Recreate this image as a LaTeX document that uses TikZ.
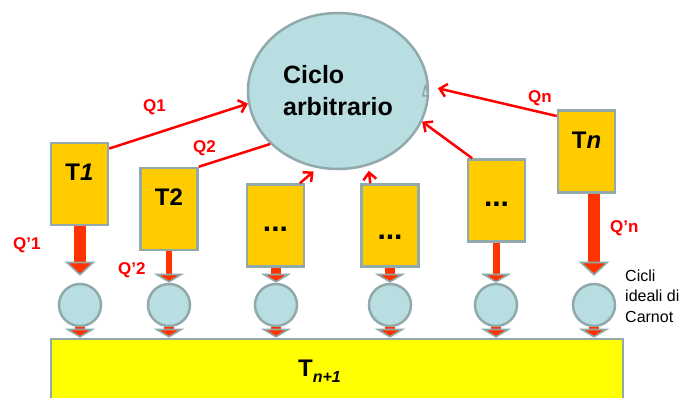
\documentclass[tikz,border=0pt]{standalone}
\usepackage{fontspec}
\setmainfont{Liberation Sans}
\usetikzlibrary{positioning,arrows.meta,shapes.geometric}
\definecolor{boxorange}{HTML}{FFCC00}
\definecolor{edgegray}{HTML}{91A9AB}
\definecolor{cyclefill}{HTML}{B9DEE2}
\definecolor{heatred}{HTML}{FF3300}
\definecolor{linkred}{HTML}{FF0000}
\definecolor{baseyellow}{HTML}{FFFF00}
\tikzset{
  tbox/.style={draw=edgegray, line width=2.5pt, fill=boxorange, minimum width=57pt,
    minimum height=82pt, inner sep=0pt, font=\fontsize{24}{26}\selectfont\bfseries,
    text height=18pt, text depth=24pt},
  tdots/.style={tbox, font=\fontsize{30}{30}\selectfont\bfseries, text height=13pt,
    text depth=0pt},
  carnot/.style={circle, draw=edgegray, line width=2.5pt, fill=cyclefill,
    minimum size=42pt, inner sep=0pt},
  qlabel/.style={font=\fontsize{17}{17}\selectfont\bfseries, text=linkred,
    inner sep=0pt, anchor=base west},
  qlink/.style={draw=linkred, line width=2.5pt, -{Straight Barb[length=7pt, width=13pt]}},
  heatflow/.style 2 args={draw=heatred, line width=#1,
    -{Triangle[width=30pt, length=#2, line width=1.6pt, color=edgegray, fill=heatred]}},
}

\begin{document}
\begin{tikzpicture}[x=1pt, y=-1pt]
  \useasboundingbox (0,0) rectangle (681,398);
  \clip (0,0) rectangle (681,398);
  % ciclo arbitrario
  \node[ellipse, draw=edgegray, line width=2.5pt, fill=cyclefill, minimum width=180pt,
    minimum height=156pt, align=left, font=\fontsize{25}{32}\selectfont\bfseries]
    (ciclo) at (338,91) {Ciclo\\arbitrario};
  \draw[edgegray, line width=1.5pt, line join=round, fill=cyclefill]
    (422.5,96) -- (425.5,85) -- (428.5,96) -- cycle;
  % sorgenti T1 ... Tn
  \node[tbox] (t1) at (79.5,184) {T\textit{1}};
  \node[tbox] (t2) at (169,209) {T2};
  \node[tdots] (t3) at (275.5,225.5) {...};
  \node[tdots, text height=28pt] (t4) at (390,225.5) {...};
  \node[tdots] (t5) at (496.5,200.5) {...};
  \node[tbox] (tn) at (586.5,151.5) {T\textit{n}};
  % cicli ideali di Carnot
  \foreach \n/\x in {1/80,2/169,3/276,4/390,5/496,6/594}
    \node[carnot] (c\n) at (\x,305) {};
  % serbatoio freddo
  \node[draw=edgegray, line width=2.5pt, fill=baseyellow, minimum width=572pt,
    minimum height=82pt] (base) at (337,380) {};
  \node[anchor=base west, inner sep=0pt, font=\fontsize{24}{26}\selectfont\bfseries]
    (tlow) at (298,377) {T\raisebox{-6pt}{\fontsize{16}{16}\selectfont\itshape n+1}};
  % calore verso il ciclo
  \draw[qlink] (t1.50) -- (ciclo.188);
  \draw[draw=linkred, line width=2.5pt] (t2.north east) -- (ciclo.218);
  \draw[qlink, shorten >=5pt] (t3.60) -- (ciclo.255);
  \draw[qlink, shorten >=5pt] (t4.115) -- (ciclo.292);
  \draw[qlink] (t5.120) -- (ciclo.340);
  \draw[qlink, shorten >=9pt] (tn.130) -- (ciclo.3);
  % calore verso i cicli di Carnot
  \draw[heatflow={12pt}{14pt}, shorten >=7pt] (t1.south -| c1.north) -- (c1.north);
  \draw[heatflow={6pt}{9pt}] (t2.south -| c2.north) -- (c2.north);
  \draw[heatflow={10pt}{9pt}] (t3.south -| c3.north) -- (c3.north);
  \draw[heatflow={10pt}{9pt}] (t4.south -| c4.north) -- (c4.north);
  \draw[heatflow={7pt}{9pt}] (t5.south -| c5.north) -- (c5.north);
  \draw[heatflow={12pt}{14pt}, shorten >=7pt] (tn.south -| c6.north) -- (c6.north);
  \foreach \n in {1,...,6}
    \draw[heatflow={10pt}{9pt}] (c\n.south) -- (c\n.south |- base.north);
  % etichette
  \node[qlabel] (q1) at (143,112) {Q1};
  \node[qlabel] (q2) at (193,153) {Q2};
  \node[qlabel] (qn) at (528,103) {Qn};
  \node[qlabel] (qp1) at (13,250) {Q’1};
  \node[qlabel] (qp2) at (118,275) {Q’2};
  \node[qlabel] (qpn) at (610,233) {Q’n};
  \node[anchor=west, align=left, inner sep=0pt, font=\fontsize{16}{20.5}\selectfont]
    (nota) at (625,296) {Cicli\\ideali di\\Carnot};
\end{tikzpicture}
\end{document}
